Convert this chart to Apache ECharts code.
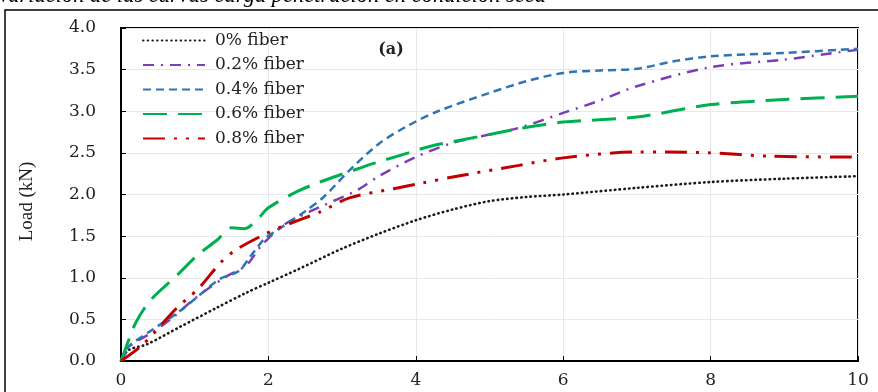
<!DOCTYPE html>
<html><head><meta charset="utf-8">
<script src="https://cdn.jsdelivr.net/npm/echarts@6/dist/echarts.min.js"></script>
<style>html,body{margin:0;padding:0;background:#fff}#c{width:878px;height:392px}</style>
</head><body><div id="c"></div>
<script>
const titleText = 'Variación de las curvas carga penetración en condición seca';
const panelLabel = '(a)';
const yAxisName = 'Load (kN)';
const seriesNames = ['0% fiber', '0.2% fiber', '0.4% fiber', '0.6% fiber', '0.8% fiber'];
const xTicks = [0, 2, 4, 6, 8, 10];
const yTicks = [0, 0.5, 1, 1.5, 2, 2.5, 3, 3.5, 4];

const fiber0 = [[0,0],[0.1,0.13],[0.35,0.2],[0.8,0.41],[1.3,0.64],[1.7,0.82],[2.0,0.94],[2.4,1.1],[3.0,1.35],[3.5,1.53],[4.0,1.69],[4.5,1.82],[5.0,1.92],[5.5,1.97],[6.0,2.0],[7.0,2.08],[8.0,2.15],[9.0,2.19],[10,2.22]];
const fiber02 = [[0,0],[0.15,0.2],[0.4,0.33],[0.7,0.52],[1.0,0.75],[1.4,1.0],[1.7,1.15],[1.9,1.38],[2.2,1.63],[2.7,1.85],[3.2,2.05],[3.5,2.22],[4.0,2.45],[4.5,2.62],[5.0,2.72],[5.4,2.8],[6.0,2.98],[6.5,3.13],[7.0,3.3],[8.0,3.53],[9.0,3.62],[10,3.74]];
const fiber04 = [[0,0],[0.1,0.17],[0.4,0.36],[0.8,0.6],[1.05,0.78],[1.35,0.99],[1.6,1.08],[1.75,1.25],[1.95,1.47],[2.1,1.56],[2.5,1.8],[2.75,1.97],[3.1,2.29],[3.5,2.61],[3.9,2.83],[4.3,3.0],[5.0,3.22],[5.5,3.36],[6.0,3.46],[6.5,3.49],[7.0,3.51],[7.5,3.6],[8.0,3.66],[9.0,3.7],[10,3.75]];
const fiber06 = [[0,0],[0.05,0.12],[0.2,0.46],[0.4,0.73],[0.75,1.02],[1.05,1.28],[1.3,1.45],[1.5,1.6],[1.68,1.59],[1.85,1.7],[2.0,1.84],[2.4,2.04],[2.7,2.15],[3.15,2.29],[3.45,2.38],[3.9,2.5],[4.2,2.58],[5.0,2.72],[5.4,2.79],[6.0,2.87],[7.0,2.93],[8.0,3.08],[9.0,3.14],[10,3.18]];
const fiber08 = [[0,0],[0.3,0.2],[0.75,0.63],[1.05,0.87],[1.35,1.18],[1.55,1.33],[1.9,1.5],[2.2,1.62],[2.7,1.79],[3.1,1.96],[3.7,2.07],[4.1,2.14],[4.5,2.21],[5.4,2.35],[6.0,2.44],[7.0,2.51],[7.4,2.51],[8.0,2.5],[8.8,2.46],[10,2.45]];

const seriesData = [fiber0, fiber02, fiber04, fiber06, fiber08];
const colors = ['#1a1a1a', '#7a3fb5', '#2e75b6', '#00b050', '#c00000'];
const dashes = [[0.5, 4.2], [11, 7, 2, 7], [8, 5], [24, 11], [22, 9, 3, 9, 3, 9]];
const widths = [2.6, 2.5, 2.5, 3, 3];
const caps = ['round', 'butt', 'butt', 'butt', 'butt'];

const chart = echarts.init(document.getElementById('c'), null, {renderer: 'canvas'});
const serif = 'DejaVu Serif';
chart.setOption({
  animation: false,
  backgroundColor: '#fff',
  grid: {left: 121, right: 20, top: 28, bottom: 31, show: true, borderColor: '#000', borderWidth: 2, containLabel: false},
  xAxis: {
    type: 'value', min: xTicks[0], max: xTicks[xTicks.length - 1], interval: 2,
    axisLine: {show: true, onZero: false, lineStyle: {color: '#000', width: 2}},
    axisTick: {show: true, inside: true, length: 5, lineStyle: {color: '#000', width: 1}},
    axisLabel: {color: '#222', fontFamily: serif, fontSize: 17, margin: 11},
    splitLine: {show: true, lineStyle: {color: '#e8e8e8', width: 1}}
  },
  yAxis: {
    type: 'value', min: yTicks[0], max: yTicks[yTicks.length - 1], interval: 0.5,
    name: yAxisName, nameLocation: 'middle', nameGap: 84, nameRotate: 90,
    nameTextStyle: {fontFamily: 'Liberation Serif', fontSize: 19, color: '#222', padding: [0, 14, 0, 0]},
    axisLine: {show: true, lineStyle: {color: '#000', width: 2}},
    axisTick: {show: true, inside: true, length: 5, lineStyle: {color: '#000', width: 1}},
    axisLabel: {color: '#222', fontFamily: serif, fontSize: 17, margin: 25, formatter: v => v.toFixed(1)},
    splitLine: {show: true, lineStyle: {color: '#e8e8e8', width: 1}}
  },
  legend: {
    show: true, orient: 'vertical', left: 137, top: 27,
    itemWidth: 62, itemHeight: 14, itemGap: 7.5,
    itemStyle: {opacity: 0},
    textStyle: {fontFamily: serif, fontSize: 17, color: '#222', padding: [0, 0, 0, 5]},
    data: seriesNames
  },
  graphic: [
    {type: 'rect', silent: true, shape: {x: 5, y: 10, width: 900, height: 420}, style: {fill: 'none', stroke: '#000', lineWidth: 1.5}, z: 100},
    {type: 'text', silent: true, x: -3, y: 8, style: {text: titleText, font: 'italic 22.5px "Liberation Serif"', fill: '#000', verticalAlign: 'bottom', align: 'left'}, z: 101},
    {type: 'text', silent: true, x: 391, y: 50, style: {text: panelLabel, font: 'bold 16px "DejaVu Serif"', fill: '#222', verticalAlign: 'middle', align: 'center'}, z: 101}
  ],
  series: seriesNames.map((n, i) => ({
    name: n, type: 'line', data: seriesData[i], smooth: 0.3,
    symbol: 'none', showSymbol: false, clip: true,
    itemStyle: {color: colors[i]},
    lineStyle: {color: colors[i], width: widths[i], type: dashes[i], cap: caps[i]}
  }))
});
</script></body></html>
